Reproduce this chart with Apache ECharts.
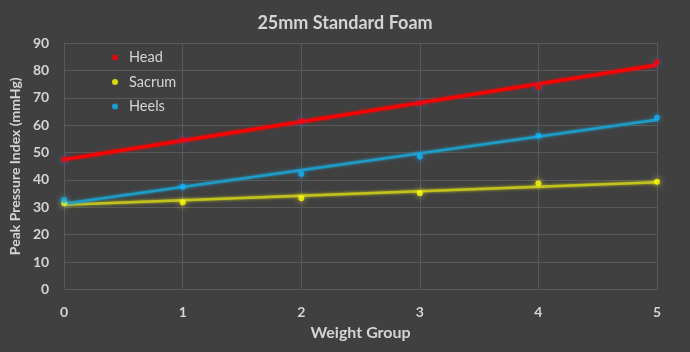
<!DOCTYPE html>
<html>
<head>
<meta charset="utf-8">
<script src="https://cdn.jsdelivr.net/npm/echarts@6/dist/echarts.min.js"></script>
<style>html,body{margin:0;padding:0;background:#404040;}#c{width:690px;height:352px;}</style>
</head>
<body>
<div id="c"></div>
<script>
const weightGroups = [0, 1, 2, 3, 4, 5];
const headValues = [47.6, 54.6, 61.5, 68.0, 73.8, 83.1];
const sacrumValues = [31.5, 31.8, 33.3, 35.1, 38.8, 39.3];
const heelsValues = [32.7, 37.5, 42.2, 48.5, 56.1, 62.7];
// trendline endpoints (at group 0 and group 5)
const trendX = [0, 5];
const headTrend = [47.5, 82.0];
const sacrumTrend = [30.9, 39.2];
const heelsTrend = [31.3, 62.0];
const yTicks = [0, 10, 20, 30, 40, 50, 60, 70, 80, 90];

const font = 'Lato';
const txt = '#d4d4d4';
const pairs = (xs, ys) => xs.map((x, i) => [x, ys[i]]);

const chart = echarts.init(document.getElementById('c'));
function scatter(name, vals, color, glow) {
  return {
    name, type: 'scatter', data: pairs(weightGroups, vals), z: 5,
    symbol: 'circle', symbolSize: 6,
    itemStyle: { color, shadowBlur: 6, shadowColor: glow }
  };
}
function trend(name, vals, color, width) {
  return {
    name, type: 'line', data: pairs(trendX, vals), showSymbol: false, z: 3,
    lineStyle: { color, width, shadowBlur: 3, shadowColor: color }
  };
}
chart.setOption({
  backgroundColor: '#404040',
  animation: false,
  textStyle: { fontFamily: font },
  title: {
    text: '25mm Standard Foam', left: 'center', top: 9,
    textStyle: { color: txt, fontSize: 18, fontWeight: 'bold', fontFamily: font }
  },
  legend: {
    orient: 'vertical', left: 107, top: 45, itemGap: 9.5,
    itemWidth: 6, itemHeight: 14, icon: 'circle',
    data: ['Head', 'Sacrum', 'Heels'],
    textStyle: { color: txt, fontSize: 14.5, fontFamily: font, padding: [0, 0, 0, 6] }
  },
  grid: { left: 63, right: 33, top: 43, bottom: 62.5 },
  xAxis: {
    type: 'value', min: 0, max: 5, interval: 1,
    name: 'Weight Group', nameLocation: 'middle', nameGap: 31,
    nameTextStyle: { color: txt, fontSize: 16, fontWeight: 'bold', fontFamily: font },
    axisLine: { show: false }, axisTick: { show: false },
    axisLabel: { color: txt, fontSize: 14, fontWeight: 'bold', margin: 16, fontFamily: font },
    splitLine: { show: true, lineStyle: { color: '#595959', width: 1 } }
  },
  yAxis: {
    type: 'value', min: 0, max: 90, interval: 10,
    name: 'Peak Pressure Index (mmHg)', nameLocation: 'middle', nameGap: 41,
    nameTextStyle: { color: txt, fontSize: 14, fontWeight: 'bold', fontFamily: font },
    axisLine: { show: false }, axisTick: { show: false },
    axisLabel: { color: txt, fontSize: 14, fontWeight: 'bold', margin: 15, fontFamily: font,
      formatter: v => yTicks.includes(v) ? String(v) : '' },
    splitLine: { show: true, lineStyle: { color: '#595959', width: 1 } }
  },
  series: [
    trend('Head trend', headTrend, '#ff0000', 3),
    trend('Sacrum trend', sacrumTrend, '#c3c31e', 2.5),
    trend('Heels trend', heelsTrend, '#1f9cc6', 2.5),
    scatter('Head', headValues, '#ff0000', 'rgba(60,110,220,0.9)'),
    scatter('Sacrum', sacrumValues, '#ffff00', 'rgba(255,255,80,0.9)'),
    scatter('Heels', heelsValues, '#11b4f5', 'rgba(30,170,255,0.9)')
  ]
});
</script>
</body>
</html>
